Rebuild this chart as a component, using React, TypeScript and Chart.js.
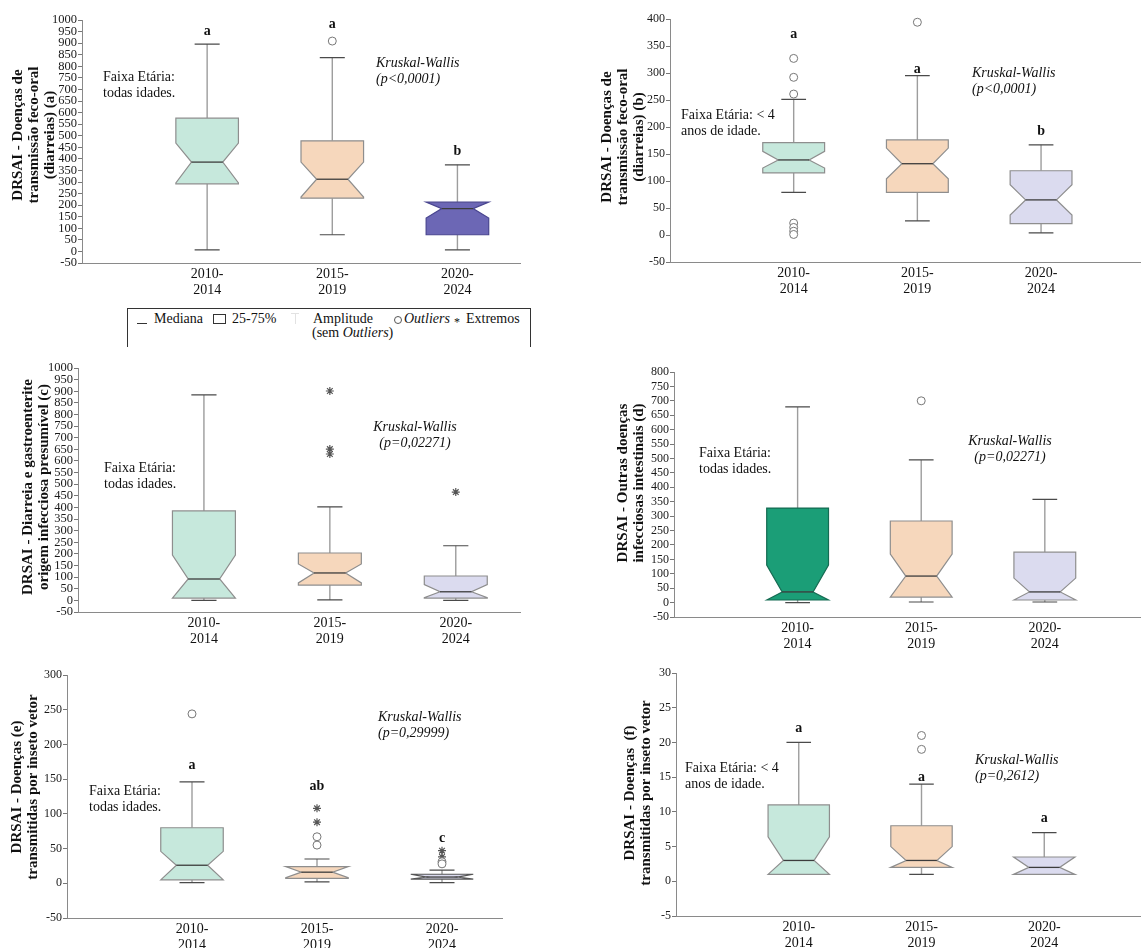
import React, { useEffect, useRef } from 'react';
import { Chart, registerables } from 'chart.js';
Chart.register(...registerables);
Chart.defaults.font.family = '"Liberation Serif", "DejaVu Serif", serif';

const CATEGORIES = [['2010-', '2014'], ['2015-', '2019'], ['2020-', '2024']];

// ---------- Panel (a)
const A_MIN = [7, 72, 7];
const A_Q1 = [292, 230, 72];
const A_MED = [386, 312, 185];
const A_Q3 = [576, 478, 213];
const A_MAX = [896, 837, 374];
const A_NOTCH_LO = [296, 235, 144];
const A_NOTCH_HI = [468, 386, 213];
const A_OUTLIERS = [[], [909], []];
const A_EXTREMES = [[], [], []];
const A_LETTERS = ['a', 'a', 'b'];
const A_LETTER_Y = [950, 983, 432];
const A_Y_AXIS = [-50, 1000, 50];

// ---------- Panel (b)
const B_MIN = [79, 26, 4];
const B_Q1 = [115, 79, 21];
const B_MED = [139, 132, 65];
const B_Q3 = [171, 176, 119];
const B_MAX = [251, 295, 167];
const B_NOTCH_LO = [124, 104, 37];
const B_NOTCH_HI = [155, 161, 93];
const B_OUTLIERS = [[327, 292, 261, 22, 14, 7, 1], [394], []];
const B_EXTREMES = [[], [], []];
const B_LETTERS = ['a', 'a', 'b'];
const B_LETTER_Y = [372, 307, 192];
const B_Y_AXIS = [-50, 400, 50];

// ---------- Panel (c)
const C_MIN = [0, 2, 0];
const C_Q1 = [10, 66, 10];
const C_MED = [92, 118, 37];
const C_Q3 = [385, 204, 105];
const C_MAX = [884, 402, 235];
const C_NOTCH_LO = [10, 75, 12];
const C_NOTCH_HI = [195, 157, 68];
const C_OUTLIERS = [[], [], []];
const C_EXTREMES = [[], [901, 651, 630], [466]];
const C_LETTERS = ['', '', ''];
const C_LETTER_Y = [0, 0, 0];
const C_Y_AXIS = [-50, 1000, 50];

// ---------- Panel (d)
const D_MIN = [0, 2, 2];
const D_Q1 = [9, 19, 9];
const D_MED = [37, 92, 37];
const D_Q3 = [328, 283, 175];
const D_MAX = [679, 495, 358];
const D_NOTCH_LO = [9, 19, 9];
const D_NOTCH_HI = [130, 168, 85];
const D_OUTLIERS = [[], [700], []];
const D_EXTREMES = [[], [], []];
const D_LETTERS = ['', '', ''];
const D_LETTER_Y = [0, 0, 0];
const D_Y_AXIS = [-50, 800, 50];

// ---------- Panel (e)
const E_MIN = [1, 2, 1];
const E_Q1 = [5, 7, 6];
const E_MED = [26, 16, 9];
const E_Q3 = [80, 24, 13];
const E_MAX = [146, 35, 19];
const E_NOTCH_LO = [5, 8, 6];
const E_NOTCH_HI = [46, 24, 13];
const E_OUTLIERS = [[244], [67, 55], [31, 28]];
const E_EXTREMES = [[], [108, 88], [47, 38]];
const E_LETTERS = ['a', 'ab', 'c'];
const E_LETTER_Y = [170, 140, 65];
const E_Y_AXIS = [-50, 300, 50];

// ---------- Panel (f)
const F_MIN = [1, 1, 1];
const F_Q1 = [1, 2, 1];
const F_MED = [3, 3, 2];
const F_Q3 = [11, 8, 3.5];
const F_MAX = [20, 14, 7];
const F_NOTCH_LO = [1, 2, 1];
const F_NOTCH_HI = [6.4, 5, 3.5];
const F_OUTLIERS = [[], [21, 19], []];
const F_EXTREMES = [[], [], []];
const F_LETTERS = ['a', 'a', 'a'];
const F_LETTER_Y = [22, 15, 9];
const F_Y_AXIS = [-5, 30, 5];

const MINT = '#c6e8dc';
const PEACH = '#f6d7bc';
const LAVENDER = '#dbdbef';
const PURPLE = '#6c67b5';
const GREEN = '#1b9e77';
const STROKE = '#8e8e8e';

const BOX_W = 0.5;
const CAP_W = 0.2;

type Note = { lines: string[]; x: number; y: number; align: CanvasTextAlign; italic?: boolean };
type Panel = {
  canvas: { left: number; top: number; w: number; h: number };
  area: { l: number; t: number; r: number; b: number };
  xMax: number;
  yAxis: number[];
  tickSize: number;
  min: number[]; q1: number[]; med: number[]; q3: number[]; max: number[];
  nlo: number[]; nhi: number[];
  outliers: number[][]; extremes: number[][];
  letters: string[]; letterY: number[];
  fills: string[]; strokes: string[];
  title: string[]; titleX: number; titleY: number;
  notes: Note[];
};

const KW = (p: string, x: number, y: number, align: CanvasTextAlign): Note => ({ lines: ['Kruskal-Wallis', p], x, y, align, italic: true });

const PANELS: Panel[] = [
  {
    canvas: { left: 0, top: 0, w: 565, h: 300 },
    area: { l: 82, t: 20, r: 520, b: 263 },
    xMax: 3.5, yAxis: A_Y_AXIS, tickSize: 12.5,
    min: A_MIN, q1: A_Q1, med: A_MED, q3: A_Q3, max: A_MAX, nlo: A_NOTCH_LO, nhi: A_NOTCH_HI,
    outliers: A_OUTLIERS, extremes: A_EXTREMES, letters: A_LETTERS, letterY: A_LETTER_Y,
    fills: [MINT, PEACH, PURPLE], strokes: [STROKE, STROKE, '#4a4690'],
    title: ['DRSAI - Doenças de', 'transmissão feco-oral', '(diarreias) (a)'], titleX: 18, titleY: 135,
    notes: [{ lines: ['Faixa Etária:', 'todas idades.'], x: 103, y: 77, align: 'left' }, KW('(p<0,0001)', 376, 63, 'left')],
  },
  {
    canvas: { left: 575, top: 0, w: 570, h: 300 },
    area: { l: 670, t: 19, r: 1145, b: 262 },
    xMax: 3.8, yAxis: B_Y_AXIS, tickSize: 12,
    min: B_MIN, q1: B_Q1, med: B_MED, q3: B_Q3, max: B_MAX, nlo: B_NOTCH_LO, nhi: B_NOTCH_HI,
    outliers: B_OUTLIERS, extremes: B_EXTREMES, letters: B_LETTERS, letterY: B_LETTER_Y,
    fills: [MINT, PEACH, LAVENDER], strokes: [STROKE, STROKE, STROKE],
    title: ['DRSAI - Doenças de', 'transmissão feco-oral', '(diarreias) (b)'], titleX: 607, titleY: 137,
    notes: [{ lines: ['Faixa Etária: < 4', 'anos de idade.'], x: 681, y: 115, align: 'left' }, KW('(p<0,0001)', 972, 73, 'left')],
  },
  {
    canvas: { left: 0, top: 355, w: 565, h: 300 },
    area: { l: 78, t: 368, r: 520, b: 612 },
    xMax: 3.51, yAxis: C_Y_AXIS, tickSize: 12.5,
    min: C_MIN, q1: C_Q1, med: C_MED, q3: C_Q3, max: C_MAX, nlo: C_NOTCH_LO, nhi: C_NOTCH_HI,
    outliers: C_OUTLIERS, extremes: C_EXTREMES, letters: C_LETTERS, letterY: C_LETTER_Y,
    fills: [MINT, PEACH, LAVENDER], strokes: [STROKE, STROKE, STROKE],
    title: ['DRSAI - Diarreia e gastroenterite', 'origem infecciosa presumível (c)'], titleX: 28, titleY: 487,
    notes: [{ lines: ['Faixa Etária:', 'todas idades.'], x: 104, y: 468, align: 'left' }, KW('(p=0,02271)', 415, 427, 'center')],
  },
  {
    canvas: { left: 575, top: 355, w: 570, h: 300 },
    area: { l: 674, t: 372, r: 1145, b: 617 },
    xMax: 3.77, yAxis: D_Y_AXIS, tickSize: 12,
    min: D_MIN, q1: D_Q1, med: D_MED, q3: D_Q3, max: D_MAX, nlo: D_NOTCH_LO, nhi: D_NOTCH_HI,
    outliers: D_OUTLIERS, extremes: D_EXTREMES, letters: D_LETTERS, letterY: D_LETTER_Y,
    fills: [GREEN, PEACH, LAVENDER], strokes: ['#156b52', STROKE, STROKE],
    title: ['DRSAI - Outras doenças', 'infecciosas intestinais (d)'], titleX: 623, titleY: 483,
    notes: [{ lines: ['Faixa Etária:', 'todas idades.'], x: 699, y: 453, align: 'left' }, KW('(p=0,02271)', 1010, 441, 'center')],
  },
  {
    canvas: { left: 0, top: 655, w: 565, h: 293 },
    area: { l: 67, t: 675, r: 502, b: 918 },
    xMax: 3.48, yAxis: E_Y_AXIS, tickSize: 12,
    min: E_MIN, q1: E_Q1, med: E_MED, q3: E_Q3, max: E_MAX, nlo: E_NOTCH_LO, nhi: E_NOTCH_HI,
    outliers: E_OUTLIERS, extremes: E_EXTREMES, letters: E_LETTERS, letterY: E_LETTER_Y,
    fills: [MINT, PEACH, LAVENDER], strokes: [STROKE, STROKE, '#555'],
    title: ['DRSAI - Doenças (e)', 'transmitidas por inseto vetor'], titleX: 17, titleY: 787,
    notes: [{ lines: ['Faixa Etária:', 'todas idades.'], x: 89, y: 791, align: 'left' }, KW('(p=0,29999)', 378, 717, 'left')],
  },
  {
    canvas: { left: 575, top: 655, w: 570, h: 293 },
    area: { l: 676, t: 673, r: 1145, b: 916 },
    xMax: 3.78, yAxis: F_Y_AXIS, tickSize: 12,
    min: F_MIN, q1: F_Q1, med: F_MED, q3: F_Q3, max: F_MAX, nlo: F_NOTCH_LO, nhi: F_NOTCH_HI,
    outliers: F_OUTLIERS, extremes: F_EXTREMES, letters: F_LETTERS, letterY: F_LETTER_Y,
    fills: [MINT, PEACH, LAVENDER], strokes: [STROKE, STROKE, STROKE],
    title: ['DRSAI - Doenças  (f)', 'transmitidas por inseto vetor'], titleX: 630, titleY: 793,
    notes: [{ lines: ['Faixa Etária: < 4', 'anos de idade.'], x: 685, y: 768, align: 'left' }, KW('(p=0,2612)', 975, 760, 'left')],
  },
];

function makeChart(canvas: HTMLCanvasElement, P: Panel) {
  const { left, top, w, h } = P.canvas;
  const YW = 60;
  const XH = top + h - P.area.b;
  const padding = {
    left: P.area.l - left - YW,
    top: P.area.t - top,
    right: left + w - P.area.r,
    bottom: 0,
  };
  const [yMin, yMax, yStep] = P.yAxis;

  const boxPlugin = {
    id: 'notchedBoxes',
    beforeDatasetsDraw(chart: any) {
      const xs = chart.scales.x;
      const ys = chart.scales.y;
      const ctx = chart.ctx as CanvasRenderingContext2D;
      const Y = (v: number) => ys.getPixelForValue(v);
      ctx.save();
      for (let i = 0; i < 3; i++) {
        const c = i + 1;
        const cx = xs.getPixelForValue(c);
        const half = (xs.getPixelForValue(c + BOX_W / 2) - xs.getPixelForValue(c - BOX_W / 2)) / 2;
        const capHalf = (xs.getPixelForValue(c + CAP_W / 2) - xs.getPixelForValue(c - CAP_W / 2)) / 2;
        const inset = half * 0.5;
        // whiskers
        ctx.strokeStyle = '#9d9d9d';
        ctx.lineWidth = 1.4;
        ctx.beginPath();
        ctx.moveTo(cx, Y(P.q3[i])); ctx.lineTo(cx, Y(P.max[i]));
        ctx.moveTo(cx, Y(P.q1[i])); ctx.lineTo(cx, Y(P.min[i]));
        ctx.stroke();
        ctx.strokeStyle = '#4a4a4a';
        ctx.lineWidth = 1.2;
        ctx.beginPath();
        ctx.moveTo(cx - capHalf, Y(P.max[i])); ctx.lineTo(cx + capHalf, Y(P.max[i]));
        ctx.moveTo(cx - capHalf, Y(P.min[i])); ctx.lineTo(cx + capHalf, Y(P.min[i]));
        ctx.stroke();
        // notched box
        ctx.beginPath();
        ctx.moveTo(cx - half, Y(P.q1[i]));
        ctx.lineTo(cx - half, Y(P.nlo[i]));
        ctx.lineTo(cx - inset, Y(P.med[i]));
        ctx.lineTo(cx - half, Y(P.nhi[i]));
        ctx.lineTo(cx - half, Y(P.q3[i]));
        ctx.lineTo(cx + half, Y(P.q3[i]));
        ctx.lineTo(cx + half, Y(P.nhi[i]));
        ctx.lineTo(cx + inset, Y(P.med[i]));
        ctx.lineTo(cx + half, Y(P.nlo[i]));
        ctx.lineTo(cx + half, Y(P.q1[i]));
        ctx.closePath();
        ctx.fillStyle = P.fills[i];
        ctx.fill();
        ctx.strokeStyle = P.strokes[i];
        ctx.lineWidth = 1.2;
        ctx.stroke();
        // median
        ctx.strokeStyle = '#3c3c3c';
        ctx.lineWidth = 1.3;
        ctx.beginPath();
        ctx.moveTo(cx - inset, Y(P.med[i])); ctx.lineTo(cx + inset, Y(P.med[i]));
        ctx.stroke();
      }
      ctx.restore();
    },
    afterDraw(chart: any) {
      const xs = chart.scales.x;
      const ys = chart.scales.y;
      const ctx = chart.ctx as CanvasRenderingContext2D;
      ctx.save();
      ctx.fillStyle = '#111';
      ctx.textAlign = 'center';
      ctx.textBaseline = 'middle';
      ctx.font = 'bold 15px "Liberation Serif"';
      P.title.forEach((line, k) => {
        ctx.save();
        ctx.translate(P.titleX + k * 16 - left, P.titleY - top);
        ctx.rotate(-Math.PI / 2);
        ctx.fillText(line, 0, 0);
        ctx.restore();
      });
      ctx.font = 'bold 14px "Liberation Serif"';
      P.letters.forEach((t, i) => {
        if (!t) return;
        ctx.fillText(t, xs.getPixelForValue(i + 1), ys.getPixelForValue(P.letterY[i]));
      });
      P.notes.forEach((n) => {
        ctx.font = (n.italic ? 'italic ' : '') + '14px "Liberation Serif"';
        ctx.textAlign = n.align;
        n.lines.forEach((l, k) => ctx.fillText(l, n.x - left, n.y + k * 16 - top));
      });
      ctx.restore();
    },
  };

  const toPoints = (arr: number[][]) => arr.flatMap((vals, i) => vals.map((v) => ({ x: i + 1, y: v })));

  return new Chart(canvas, {
    type: 'scatter',
    data: {
      datasets: [
        {
          label: 'Outliers',
          data: toPoints(P.outliers),
          pointStyle: 'circle',
          pointRadius: 4,
          borderWidth: 1,
          borderColor: '#777',
          backgroundColor: '#fff',
          clip: false,
        },
        {
          label: 'Extremos',
          data: toPoints(P.extremes),
          pointStyle: 'star',
          pointRadius: 4,
          borderWidth: 1.2,
          borderColor: '#555',
          backgroundColor: '#555',
          clip: false,
        },
      ],
    },
    options: {
      responsive: false,
      animation: false,
      layout: { padding },
      plugins: { legend: { display: false }, tooltip: { enabled: false } },
      scales: {
        x: {
          type: 'linear',
          min: 0,
          max: P.xMax,
          grid: { display: false, drawTicks: false },
          border: { display: true, color: '#8a8a8a', width: 1 },
          ticks: {
            autoSkip: false,
            maxRotation: 0,
            padding: 4,
            color: '#111',
            font: { size: 14, lineHeight: 1.1 },
            callback: (v: any) => CATEGORIES[Number(v) - 1] ?? '',
          },
          afterBuildTicks: (scale: any) => {
            scale.ticks = CATEGORIES.map((_, i) => ({ value: i + 1 }));
          },
          afterFit: (scale: any) => {
            scale.height = XH;
          },
        },
        y: {
          type: 'linear',
          min: yMin,
          max: yMax,
          grid: { display: true, drawOnChartArea: false, drawTicks: true, tickLength: 4, color: '#777' },
          border: { display: true, color: '#8a8a8a', width: 1 },
          ticks: {
            autoSkip: false,
            padding: 1,
            color: '#1a1a1a',
            font: { size: P.tickSize },
            callback: (v: any) => String(v),
          },
          afterBuildTicks: (scale: any) => {
            const t = [];
            for (let v = yMin; v <= yMax + 1e-9; v += yStep) t.push({ value: v });
            scale.ticks = t;
          },
          afterFit: (scale: any) => {
            scale.width = YW;
          },
        },
      },
    },
    plugins: [boxPlugin],
  } as any);
}

function PanelChart({ panel }: { panel: Panel }) {
  const ref = useRef<HTMLCanvasElement>(null);
  useEffect(() => {
    const chart = makeChart(ref.current as HTMLCanvasElement, panel);
    return () => chart.destroy();
  }, [panel]);
  const { left, top, w, h } = panel.canvas;
  return (
    <canvas
      ref={ref}
      width={w}
      height={h}
      style={{ position: 'absolute', left, top, width: w, height: h }}
    />
  );
}

const txt: React.CSSProperties = {
  position: 'absolute',
  fontFamily: '"Liberation Serif", serif',
  fontSize: 14,
  lineHeight: '16px',
  color: '#111',
  whiteSpace: 'nowrap',
};

function Legend() {
  return (
    <>
      <div style={{ position: 'absolute', left: 127, top: 308, width: 402, height: 38, borderTop: '1px solid #333', borderLeft: '1px solid #333', borderRight: '1px solid #333' }} />
      <div style={{ position: 'absolute', left: 137, top: 323, width: 10, height: 0, borderTop: '1.5px solid #333' }} />
      <div style={{ ...txt, left: 154, top: 311 }}>Mediana</div>
      <div style={{ position: 'absolute', left: 213, top: 314, width: 11, height: 8, border: '1px solid #333' }} />
      <div style={{ ...txt, left: 232, top: 311 }}>25-75%</div>
      <div style={{ position: 'absolute', left: 295, top: 313, width: 0, height: 11, borderLeft: '1px solid #e2e2e2' }} />
      <div style={{ position: 'absolute', left: 291, top: 313, width: 8, height: 0, borderTop: '1px solid #e2e2e2' }} />
      <div style={{ ...txt, left: 313, top: 311 }}>Amplitude</div>
      <div style={{ ...txt, left: 312, top: 325 }}>(sem <i>Outliers</i>)</div>
      <div style={{ position: 'absolute', left: 394, top: 316, width: 6, height: 6, border: '1px solid #555', borderRadius: '50%' }} />
      <div style={{ ...txt, left: 404, top: 311 }}><i>Outliers</i></div>
      <div style={{ ...txt, left: 454, top: 314, fontSize: 12 }}>*</div>
      <div style={{ ...txt, left: 466, top: 311 }}>Extremos</div>
    </>
  );
}

export default function App() {
  return (
    <div style={{ position: 'absolute', left: 0, top: 0, width: 1145, height: 948, background: '#fff', overflow: 'hidden' }}>
      {PANELS.map((p, i) => (
        <PanelChart key={i} panel={p} />
      ))}
      <Legend />
    </div>
  );
}
